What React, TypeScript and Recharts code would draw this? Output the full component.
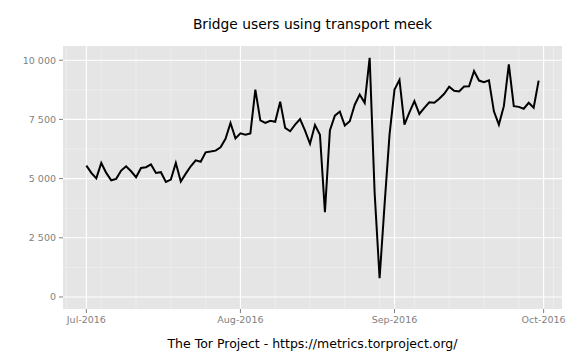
import React from 'react';
import {
  LineChart,
  Line,
  XAxis,
  YAxis,
  CartesianGrid,
} from 'recharts';

document.body.style.margin = '0';

// daily values, 2016-07-01 .. 2016-09-30
const users = [
  5550, 5240, 5010, 5660, 5240, 4930, 4990, 5340, 5520, 5310,
  5060, 5450, 5480, 5600, 5240, 5270, 4860, 4960, 5660, 4880,
  5210, 5520, 5770, 5710, 6110, 6140, 6180, 6320, 6680, 7350,
  6700, 6910, 6850, 6910, 8760, 7460, 7350, 7440, 7400, 8250,
  7140, 7000, 7280, 7510, 7030, 6470, 7260, 6850, 3580, 7030,
  7660, 7830, 7240, 7420, 8120, 8550, 8200, 10100, 4400, 790,
  3900, 6860, 8760, 9170, 7280, 7800, 8270, 7730, 7990, 8220,
  8200, 8370, 8580, 8880, 8710, 8680, 8890, 8900, 9540, 9140,
  9070, 9150, 7840, 7280, 8060, 9820, 8060, 8030, 7950, 8200,
  7990, 9140,
];

// x positions are days since 2016-07-01
const monthTicks = [0, 31, 62, 92];
const monthLabels = ['Jul-2016', 'Aug-2016', 'Sep-2016', 'Oct-2016'];
const weekLines = [-4, 3, 10, 17, 24, 31, 38, 45, 52, 59, 66, 73, 80, 87, 94];
const yTicks = [0, 2500, 5000, 7500, 10000];
const yMinor = [1250, 3750, 6250, 8750];

const data = users.map((v, i) => ({ day: i, users: v }));

const font = '"DejaVu Sans", sans-serif';

const fmtY = (v: number) => v.toLocaleString('en-US').replace(/,/g, ' ');
const fmtX = (v: number) => monthLabels[monthTicks.indexOf(v)] ?? '';

export default function App() {
  return (
    <div style={{ position: 'relative', width: 576, height: 360, background: '#fff', fontFamily: font }}>
      <div style={{ position: 'absolute', top: 15, left: 63, width: 499, textAlign: 'center', fontSize: 13.8, lineHeight: '18px', color: '#000' }}>
        Bridge users using transport meek
      </div>
      <LineChart
        width={576}
        height={360}
        data={data}
        margin={{ top: 46, right: 14, left: 0, bottom: 21 }}
      >
        <CartesianGrid
          fill="#E5E5E5"
          stroke="#F2F2F2"
          strokeWidth={0.6}
          horizontalValues={yMinor}
          verticalValues={weekLines}
        />
        <CartesianGrid stroke="#FFFFFF" strokeWidth={1.1} horizontalValues={yTicks} verticalValues={monthTicks} />
        <XAxis
          dataKey="day"
          type="number"
          domain={[-4.7, 95.7]}
          ticks={monthTicks}
          tickFormatter={fmtX}
          allowDataOverflow
          axisLine={false}
          tickSize={4}
          tickMargin={3}
          tickLine={{ stroke: '#7F7F7F' }}
          tick={{ fontSize: 9.5, fill: '#7F7F7F', fontFamily: font }}
          height={30}
        />
        <YAxis
          type="number"
          domain={[-507, 10600]}
          ticks={yTicks}
          tickFormatter={fmtY}
          allowDataOverflow
          axisLine={false}
          tickSize={4}
          tickMargin={3}
          tickLine={{ stroke: '#7F7F7F' }}
          tick={{ fontSize: 9.5, fill: '#7F7F7F', fontFamily: font }}
          width={63}
        />
        <Line
          type="linear"
          dataKey="users"
          stroke="#000"
          strokeWidth={2}
          dot={false}
          isAnimationActive={false}
        />
      </LineChart>
      <div style={{ position: 'absolute', top: 336, left: 63, width: 499, textAlign: 'center', fontSize: 12.5, lineHeight: '16px', color: '#000' }}>
        The Tor Project - https://metrics.torproject.org/
      </div>
    </div>
  );
}
